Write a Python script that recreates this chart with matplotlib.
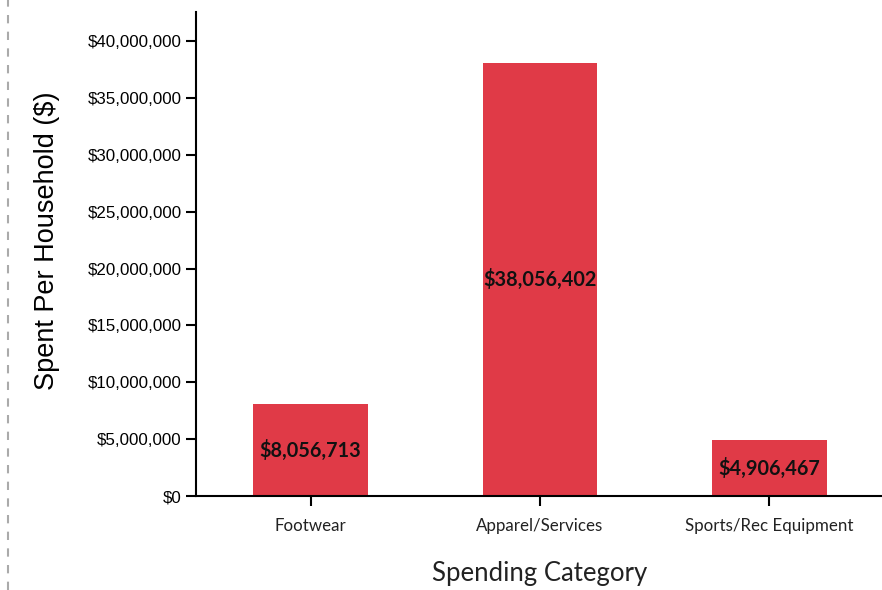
import matplotlib.pyplot as plt
from matplotlib.lines import Line2D
from matplotlib.ticker import FuncFormatter

# spending per household by category
categories = ['Footwear', 'Apparel/Services', 'Sports/Rec Equipment']
spent = [8056713, 38056402, 4906467]

fig = plt.figure(figsize=(8.82, 5.9), dpi=100)
ax = fig.add_axes([196 / 882, (590 - 496) / 590, 688 / 882, (496 - 12) / 590])

bars = ax.bar(range(len(categories)), spent, width=0.5, color='#E03A47')

for b, v in zip(bars, spent):
    ax.text(b.get_x() + b.get_width() / 2, v / 2, f'${v:,.0f}',
            ha='center', va='center', fontsize=14.3, fontweight='bold',
            family='Lato', color='#111111')

ax.set_xlim(-0.5, 2.5)
ax.set_ylim(0, 42.55e6)
ax.set_yticks(range(0, 40000001, 5000000))
ax.yaxis.set_major_formatter(FuncFormatter(lambda v, p: f'${v:,.0f}'))
ax.set_xticks(range(len(categories)))
ax.set_xticklabels(categories, family='Lato', fontsize=12.2, color='#222222')
for lab in ax.get_yticklabels():
    lab.set_family('Liberation Sans')
    lab.set_fontsize(12.2)

ax.set_xlabel('Spending Category', family='Lato', fontsize=18.5, labelpad=19,
              color='#222222')
ax.set_ylabel('Spent Per Household ($)', family='Liberation Sans', fontsize=19.5)
ax.yaxis.set_label_coords(-0.198, 0.527)

ax.spines['top'].set_visible(False)
ax.spines['right'].set_visible(False)
ax.spines['left'].set_linewidth(1.5)
ax.spines['bottom'].set_linewidth(1.5)
ax.tick_params(axis='both', length=7, width=1.5)
ax.tick_params(axis='x', pad=9)

# dashed separator on the left edge
fig.add_artist(Line2D([7.5 / 882, 7.5 / 882], [0, 1], transform=fig.transFigure,
                      color='#aaaaaa', linestyle=(0, (4, 4)), linewidth=1.5))

fig.savefig('out.png', dpi=100)
